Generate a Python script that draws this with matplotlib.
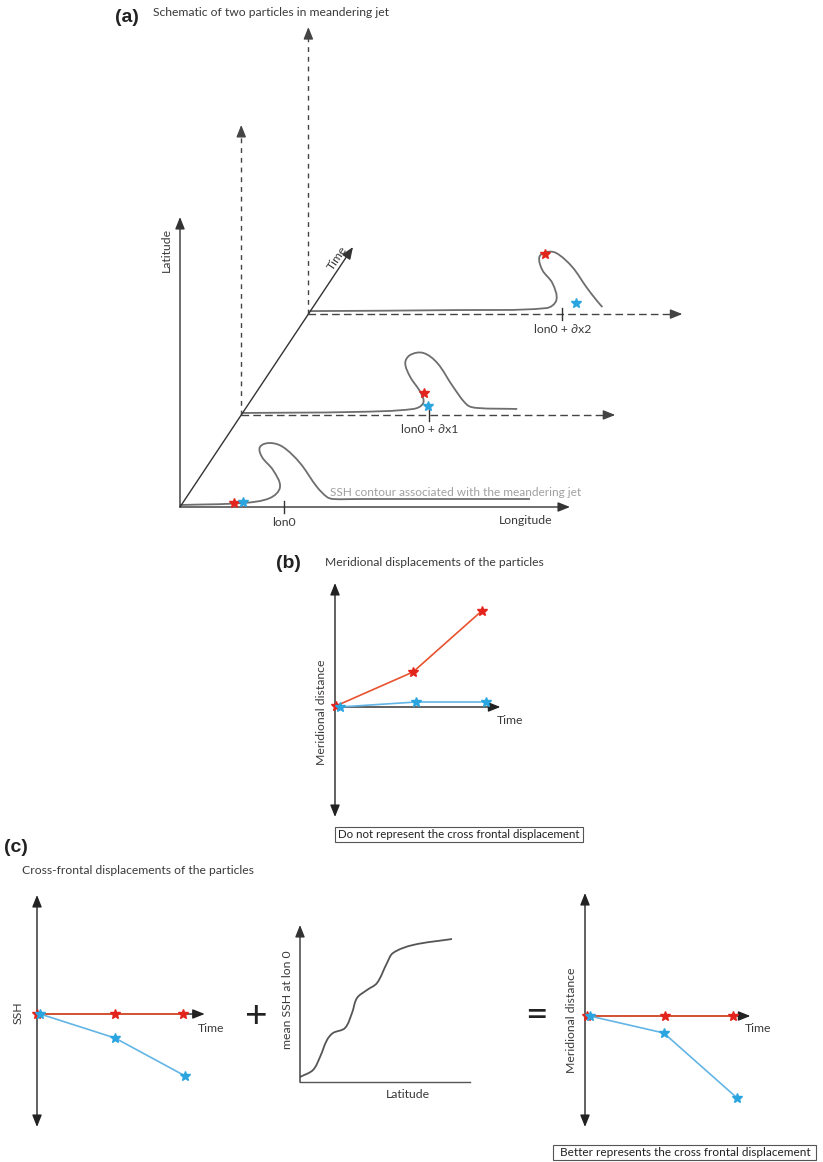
"""Schematic of two particles in a meandering jet: meridional versus
cross-frontal displacement.  Everything is laid out on an 823x1162 px page.
"""

import matplotlib

matplotlib.use("Agg")
import matplotlib.pyplot as plt
import numpy as np
from matplotlib.patches import PathPatch, Rectangle
from matplotlib.path import Path

W, H = 823, 1162

# ---------------------------------------------------------------- panel (a)
# SSH contour at three time levels, as (lon, lat) offsets from each level origin
CONTOUR_LON = [
    [0, 63, 90, 100, 93, 82, 80, 90, 103, 120, 137, 147, 153, 180, 350],
    [0, 112, 172, 182, 179, 169, 164, 169, 182, 196, 212, 226, 236, 276],
    [1, 148, 238, 248, 244, 234, 231, 238, 248, 264, 278, 288, 294],
]
CONTOUR_LAT = [
    [2, 4, 9, 20, 37, 50, 60, 64, 60, 44, 20, 10, 8, 8, 8],
    [2, 3, 6, 12, 23, 38, 52, 60, 62, 52, 28, 10, 7, 6],
    [3, 4, 6, 14, 31, 44, 57, 62, 61, 47, 27, 14, 7],
]
TIME_LEVELS = [0.0, 0.354, 0.742]
RED_LON = [54, 183, 237]
RED_LAT = [4, 22, 60]
BLUE_LON = [63, 187, 268]
BLUE_LAT = [5, 9, 11]
TICK_LON = [104, 188, 254]
TICK_LABELS = ["lon0", "lon0 + \u2202x1", "lon0 + \u2202x2"]
LON_AXIS_LEN = [390, 374, 374]
LAT_AXIS_LEN = [290, 290, 287]

# ---------------------------------------------------------------- panel (b)
B_RED_T = [0.01, 1.0, 1.88]
B_RED_Y = [0.01, 0.35, 0.96]
B_BLUE_T = [0.06, 1.04, 1.94]
B_BLUE_Y = [0.0, 0.05, 0.05]

# ---------------------------------------------------------------- panel (c)
C_SSH_RED_T = [0.0, 1.0, 1.87]
C_SSH_RED_Y = [0.0, 0.0, 0.0]
C_SSH_BLUE_T = [0.04, 1.0, 1.9]
C_SSH_BLUE_Y = [0.0, -0.24, -0.62]

MEAN_LAT = [0, .13, .20, .27, .33, .45, .52, .57, .67, .77, .87, .93, 1.13, 1.52]
MEAN_SSH = [.05, .12, .25, .42, .49, .54, .69, .84, .92, .99, 1.19, 1.29, 1.37, 1.43]

C_MER_RED_T = [0.03, 1.03, 1.9]
C_MER_RED_Y = [0.0, 0.0, 0.0]
C_MER_BLUE_T = [0.06, 1.01, 1.95]
C_MER_BLUE_Y = [0.0, -0.17, -0.82]

RED_LINE, RED_STAR = "#e8522f", "#e3241c"
BLUE_LINE, BLUE_STAR = "#62b5e5", "#2aa5df"
AXIS = "#222222"
CURVE = "#6e6e6e"
TEXT = "#3a3a3a"
FONT = ["Lato", "DejaVu Sans"]
TITLE_SIZE = 8.7
LABEL_SIZE = 8.8

plt.rcParams["font.family"] = FONT


def smooth_path(x, y):
    """Cubic Bezier path through every point, tangents from neighbouring points."""
    pts = np.column_stack([x, y]).astype(float)
    n = len(pts)
    tang = np.zeros_like(pts)
    for i in range(n):
        d = pts[min(i + 1, n - 1)] - pts[max(i - 1, 0)]
        tang[i] = d / (np.hypot(*d) or 1.0)
    verts, codes = [pts[0]], [Path.MOVETO]
    for i in range(n - 1):
        seg = np.hypot(*(pts[i + 1] - pts[i])) / 3
        verts += [pts[i] + tang[i] * seg, pts[i + 1] - tang[i + 1] * seg, pts[i + 1]]
        codes += [Path.CURVE4] * 3
    return Path(verts, codes)


def arrow(ax, start, end, style="-|>", color=AXIS, lw=1.0):
    ax.annotate(
        "", xy=end, xytext=start, annotation_clip=False,
        arrowprops=dict(arrowstyle=f"{style},head_length=0.6,head_width=0.24",
                        color=color, lw=lw, shrinkA=0, shrinkB=0, mutation_scale=12),
    )


def dashed_arrow(ax, start, end, dashes, color="#444444"):
    start, end = np.asarray(start, float), np.asarray(end, float)
    d = end - start
    near = end - d / np.hypot(*d) * 6
    ax.plot([start[0], near[0]], [start[1], near[1]], color=color, lw=1.0,
            dashes=dashes, solid_capstyle="butt")
    arrow(ax, near, end, color=color)


def unit_axes(fig, origin, xlim, ylim, px=78, py=100):
    """Axes whose data origin sits on a given page pixel."""
    ox, oy = origin
    left, right = ox + xlim[0] * px, ox + xlim[1] * px
    top, bottom = oy - ylim[1] * py, oy - ylim[0] * py
    ax = fig.add_axes([left / W, 1 - bottom / H, (right - left) / W, (bottom - top) / H])
    ax.set_xlim(*xlim)
    ax.set_ylim(*ylim)
    ax.set_axis_off()
    return ax


def particle_plot(ax, red_t, red_y, blue_t, blue_y, xlim, ylim):
    arrow(ax, (0, ylim[0]), (0, ylim[1]), style="<|-|>")
    arrow(ax, (0, 0), (xlim[1], 0))
    ax.plot(red_t, red_y, color=RED_LINE, lw=1.2, zorder=3, clip_on=False)
    ax.plot(blue_t, blue_y, color=BLUE_LINE, lw=1.2, zorder=3, clip_on=False)
    ax.plot(red_t, red_y, ls="none", marker="*", ms=7, color=RED_STAR, zorder=4, clip_on=False)
    ax.plot(blue_t, blue_y, ls="none", marker="*", ms=7, color=BLUE_STAR, zorder=5, clip_on=False)


def label(x, y, s, **kw):
    kw.setdefault("fontsize", LABEL_SIZE)
    kw.setdefault("color", TEXT)
    canvas.text(x, y, s, ha=kw.pop("ha", "center"), va="center", **kw)


def panel_letter(x, y, s):
    canvas.text(x, y, s, fontsize=14, fontweight="bold", family="Liberation Sans",
                color="#222", va="center")


fig = plt.figure(figsize=(W / 100, H / 100), dpi=100)
canvas = fig.add_axes([0, 0, 1, 1])
canvas.set_xlim(0, W)
canvas.set_ylim(H, 0)
canvas.set_axis_off()

# ---- (a) pseudo-3D lon / lat / time frame
ORIGIN = (180, 507)
TIME_TIP = (173, 260)


def level_xy(lon, lat, level):
    t = TIME_LEVELS[level]
    ox, oy = ORIGIN[0] + t * TIME_TIP[0], ORIGIN[1] - t * TIME_TIP[1]
    return ox + np.asarray(lon, float), oy - np.asarray(lat, float)


panel_letter(115, 18, "(a)")
label(153, 12, "Schematic of two particles in meandering jet", fontsize=TITLE_SIZE, ha="left")

arrow(canvas, ORIGIN, (ORIGIN[0], ORIGIN[1] - LAT_AXIS_LEN[0]), color="#333")
arrow(canvas, ORIGIN, (ORIGIN[0] + LON_AXIS_LEN[0], ORIGIN[1]), color="#333")
arrow(canvas, ORIGIN, (ORIGIN[0] + TIME_TIP[0], ORIGIN[1] - TIME_TIP[1]), color="#333")
for lev in (1, 2):
    o = level_xy(0, 0, lev)
    dashed_arrow(canvas, o, level_xy(0, LAT_AXIS_LEN[lev], lev), dashes=(3.5, 3.5))
    dashed_arrow(canvas, o, level_xy(LON_AXIS_LEN[lev], 0, lev), dashes=(5.5, 3))

for lev in range(3):
    cx, cy = level_xy(CONTOUR_LON[lev], CONTOUR_LAT[lev], lev)
    canvas.add_patch(PathPatch(smooth_path(cx, cy), fill=False, ec=CURVE, lw=1.3, zorder=2))
    tx, ty = level_xy([TICK_LON[lev]] * 2, [6, -6], lev)
    canvas.plot(tx, ty, color="#333", lw=1.0)
    lx, ly = level_xy(TICK_LON[lev], -15, lev)
    label(lx, ly, TICK_LABELS[lev])
    rx, ry = level_xy(RED_LON[lev], RED_LAT[lev], lev)
    canvas.plot(rx, ry, marker="*", ms=7, color=RED_STAR, zorder=4)
    bx, by = level_xy(BLUE_LON[lev], BLUE_LAT[lev], lev)
    canvas.plot(bx, by, marker="*", ms=7, color=BLUE_STAR, zorder=4)

label(166, 250, "Latitude", rotation=90)
label(526, 521, "Longitude")
label(337, 258, "Time", rotation=56)
label(330, 493, "SSH contour associated with the meandering jet", fontsize=8.6,
      color="#a0a0a0", ha="left")

# ---- (b) meridional displacement
panel_letter(276, 564, "(b)")
label(325, 562, "Meridional displacements of the particles", fontsize=TITLE_SIZE, ha="left")
xl, yl = (0, 2.12), (-1.10, 1.24)
ax_b = unit_axes(fig, (335, 707), xl, yl)
particle_plot(ax_b, B_RED_T, B_RED_Y, B_BLUE_T, B_BLUE_Y, xl, yl)
label(322, 712, "Meridional distance", rotation=90)
label(510, 721, "Time")
canvas.add_patch(Rectangle((335, 827), 248, 15, fill=False, ec="#555", lw=0.8))
label(459, 835, "Do not represent the cross frontal displacement", fontsize=8.3, color="#222")

# ---- (c) cross-frontal displacement, via SSH and the mean SSH profile
panel_letter(4, 848, "(c)")
label(22, 870, "Cross-frontal displacements of the particles", fontsize=TITLE_SIZE, ha="left")

xl, yl = (0, 2.15), (-1.13, 1.19)
ax_c1 = unit_axes(fig, (37, 1014), xl, yl)
particle_plot(ax_c1, C_SSH_RED_T, C_SSH_RED_Y, C_SSH_BLUE_T, C_SSH_BLUE_Y, xl, yl)
label(18, 1013, "SSH", rotation=90)
label(211, 1028, "Time")

label(256, 1016, "+", fontsize=28, color="#222")

xl, yl = (0, 1.70), (0, 1.57)
ax_c2 = unit_axes(fig, (300, 1082), xl, yl, px=100)
arrow(ax_c2, (0, 0), (0, yl[1]), color="#333")
ax_c2.plot([0, xl[1]], [0, 0], color="#555", lw=1.0, clip_on=False)
ax_c2.add_patch(PathPatch(smooth_path(MEAN_LAT, MEAN_SSH), fill=False, ec="#555", lw=1.3))
label(288, 1000, "mean SSH at lon 0", rotation=90)
label(408, 1095, "Latitude")

label(536, 1016, "=", fontsize=28, color="#222")

xl, yl = (0, 2.12), (-1.11, 1.23)
ax_c3 = unit_axes(fig, (585, 1016), xl, yl)
particle_plot(ax_c3, C_MER_RED_T, C_MER_RED_Y, C_MER_BLUE_T, C_MER_BLUE_Y, xl, yl)
label(572, 1020, "Meridional distance", rotation=90)
label(758, 1028, "Time")
canvas.add_patch(Rectangle((553, 1145), 263, 15, fill=False, ec="#555", lw=0.8))
label(685, 1152, "Better represents the cross frontal displacement", fontsize=8.5, color="#222")

fig.savefig("out.png", dpi=100)
